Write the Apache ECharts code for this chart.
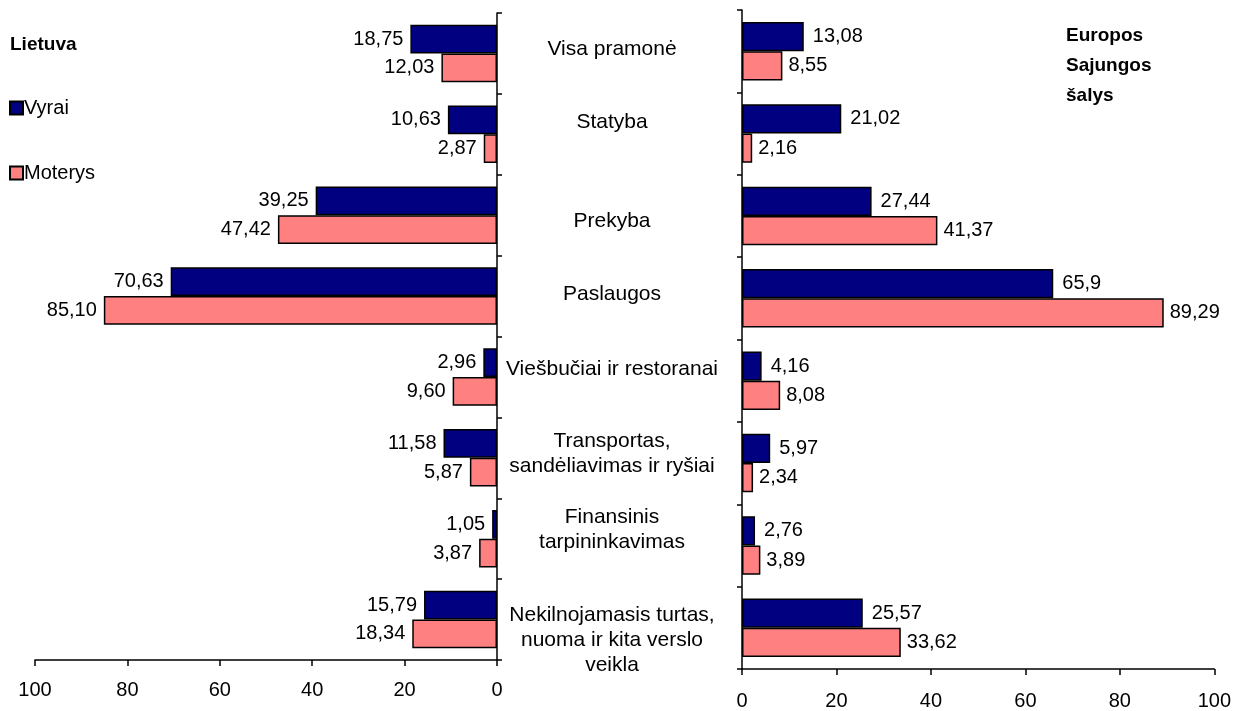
<!DOCTYPE html>
<html><head><meta charset="utf-8">
<script src="https://cdn.jsdelivr.net/npm/echarts@6/dist/echarts.min.js"></script>
<style>html,body{margin:0;padding:0;background:#fff}#c{width:1234px;height:711px}</style>
</head><body><div id="c"></div>
<script>
const categories = ['Visa pramonė','Statyba','Prekyba','Paslaugos','Viešbučiai ir restoranai','Transportas,\nsandėliavimas ir ryšiai','Finansinis\ntarpininkavimas','Nekilnojamasis turtas,\nnuoma ir kita verslo\nveikla'];
const ltVyrai = [18.75,10.63,39.25,70.63,2.96,11.58,1.05,15.79];
const ltMoterys = [12.03,2.87,47.42,85.10,9.60,5.87,3.87,18.34];
const esVyrai = [13.08,21.02,27.44,65.9,4.16,5.97,2.76,25.57];
const esMoterys = [8.55,2.16,41.37,89.29,8.08,2.34,3.89,33.62];
const xTicks = [0,20,40,60,80,100];

// vertical nudge (px) of each category label, as placed in the original
const labelShift = [-4,-12,6,-2,-8,-4,-9,21];

const FONT = '"Liberation Sans", Arial, sans-serif';
const blue = '#000080', pink = '#FF8080';
const fmt2 = v => v.toFixed(2).replace('.', ',');
const fmtS = v => String(v).replace('.', ',');

// rich spacer styles used to nudge category labels vertically
const rich = {t:{fontSize:21, lineHeight:25, color:'#000', fontFamily:FONT}};
labelShift.forEach((d, i) => { rich['s' + i] = {fontSize:1, lineHeight:Math.max(1, Math.abs(2*d))}; });
const catFormatter = (value, index) => {
  const d = labelShift[index] || 0;
  const lines = value.split('\n').map(l => '{t|' + l + '}');
  if (d > 0) lines.unshift('{s' + index + '|\u00a0}');
  if (d < 0) lines.push('{s' + index + '|\u00a0}');
  return lines.join('\n');
};

const chart = echarts.init(document.getElementById('c'));
const axisLine = {show:true, lineStyle:{color:'#000', width:1.5}};
const axisTick = {show:true, length:5, lineStyle:{color:'#000', width:1.5}};
const barBase = {type:'bar', barGap:'0%', barCategoryGap:'29%', animation:false};
const lbl = {show:true, fontSize:20, color:'#000', fontFamily:FONT};
chart.setOption({
  textStyle:{fontFamily:FONT},
  legend:{
    orient:'vertical', left:4, top:93, itemGap:45, itemWidth:13, itemHeight:13, icon:'rect',
    data:['Vyrai','Moterys'], selectedMode:false,
    textStyle:{fontFamily:FONT, fontSize:20, color:'#000', padding:[0,0,0,-4]}
  },
  graphic:[
    {type:'text', left:10, top:35, style:{text:'Lietuva', font:'bold 19px '+FONT, fill:'#000'}},
    {type:'text', left:1066, top:21, style:{text:'Europos\nSajungos\nšalys', font:'bold 19px '+FONT, lineHeight:30, fill:'#000'}}
  ],
  grid:[
    {left:35, right:737, top:13, bottom:51},
    {left:742, right:18, top:10, bottom:41}
  ],
  xAxis:[
    {gridIndex:0, type:'value', min:0, max:100, interval:20, inverse:true, splitLine:{show:false},
     axisLine, axisTick:{...axisTick, length:6},
     axisLabel:{fontSize:20, color:'#000', margin:20, fontFamily:FONT, formatter:v=>xTicks.includes(v)?String(v):''}},
    {gridIndex:1, type:'value', min:0, max:100, interval:20, splitLine:{show:false},
     axisLine, axisTick:{...axisTick, length:6},
     axisLabel:{fontSize:20, color:'#000', margin:22, fontFamily:FONT, formatter:v=>xTicks.includes(v)?String(v):''}}
  ],
  yAxis:[
    {gridIndex:0, type:'category', data:categories, inverse:true, position:'right',
     axisLine, axisTick:{...axisTick, length:5},
     axisLabel:{interval:0, showMinLabel:true, showMaxLabel:true, hideOverlap:false,
       fontSize:21, color:'#000', align:'center', margin:115, lineHeight:25, fontFamily:FONT,
       formatter:catFormatter, rich}},
    {gridIndex:1, type:'category', data:categories, inverse:true, position:'left',
     axisLine, axisTick:{...axisTick, length:5}, axisLabel:{show:false}}
  ],
  series:[
    {...barBase, name:'Vyrai', xAxisIndex:0, yAxisIndex:0, data:ltVyrai,
     itemStyle:{color:blue, borderColor:'#000', borderWidth:1.5},
     label:{...lbl, position:'left', distance:7, formatter:p=>fmt2(p.value)}},
    {...barBase, name:'Moterys', xAxisIndex:0, yAxisIndex:0, data:ltMoterys,
     itemStyle:{color:pink, borderColor:'#000', borderWidth:1.5},
     label:{...lbl, position:'left', distance:7, formatter:p=>fmt2(p.value)}},
    {...barBase, name:'Vyrai', xAxisIndex:1, yAxisIndex:1, data:esVyrai,
     itemStyle:{color:blue, borderColor:'#000', borderWidth:1.5},
     label:{...lbl, position:'right', distance:9, formatter:p=>fmtS(p.value)}},
    {...barBase, name:'Moterys', xAxisIndex:1, yAxisIndex:1, data:esMoterys,
     itemStyle:{color:pink, borderColor:'#000', borderWidth:1.5},
     label:{...lbl, position:'right', distance:6, formatter:p=>fmtS(p.value)}}
  ]
});
</script></body></html>
